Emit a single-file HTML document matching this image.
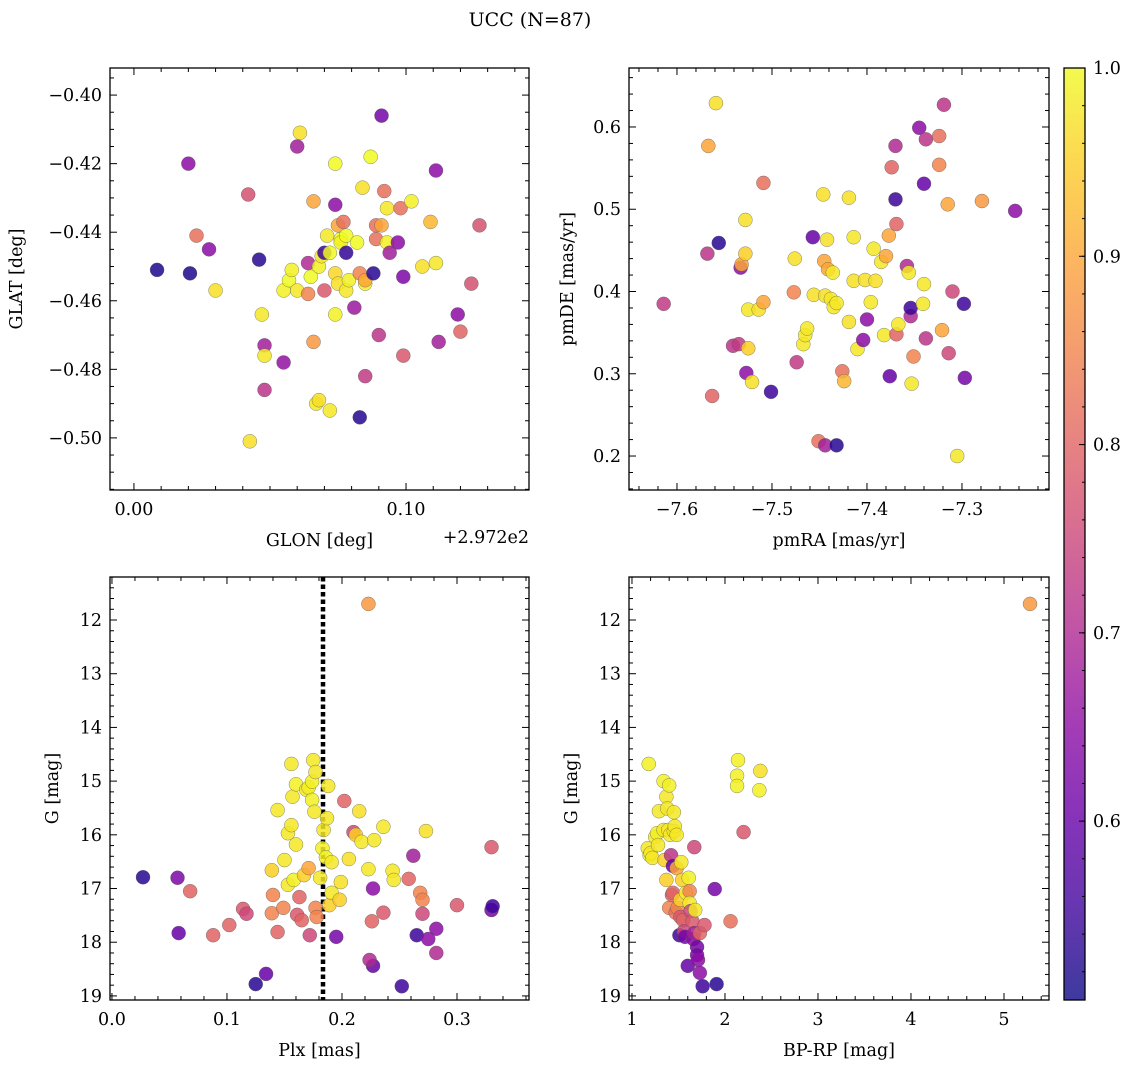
<!DOCTYPE html>
<html><head><meta charset="utf-8"><style>
body{margin:0;background:#fff;}
svg text{font-family:"DejaVu Serif","Liberation Serif",serif;fill:#000;}
</style></head><body>
<svg id="fig" width="1136" height="1067" xmlns="http://www.w3.org/2000/svg">
<defs>
<linearGradient id="plasma" x1="0" y1="1" x2="0" y2="0">
<stop offset="0" stop-color="#0d0887"/><stop offset="0.1" stop-color="#41049d"/><stop offset="0.2" stop-color="#6a00a8"/><stop offset="0.3" stop-color="#8f0da4"/><stop offset="0.4" stop-color="#b12a90"/><stop offset="0.5" stop-color="#cc4778"/><stop offset="0.6" stop-color="#e16462"/><stop offset="0.7" stop-color="#f2844b"/><stop offset="0.8" stop-color="#fca636"/><stop offset="0.9" stop-color="#fcce25"/><stop offset="1" stop-color="#f0f921"/>
</linearGradient>
</defs>
<text x="530" y="26" font-size="19" text-anchor="middle">UCC (N=87)</text>
</svg>
<script>
// Panel 1: GLON offset (deg from 297.2), GLAT, prob
const p1Glon=[0.0085,0.020,0.0206,0.023,0.0276,0.030,0.042,0.0426,0.046,0.047,0.048,0.048,0.048,0.055,0.055,0.057,0.058,0.060,0.060,0.061,0.064,0.064,0.065,0.066,0.066,0.067,0.068,0.068,0.069,0.070,0.070,0.071,0.072,0.072,0.074,0.074,0.074,0.074,0.075,0.075,0.076,0.076,0.077,0.078,0.078,0.078,0.079,0.081,0.082,0.083,0.083,0.084,0.085,0.085,0.085,0.087,0.088,0.089,0.089,0.090,0.091,0.091,0.092,0.093,0.093,0.094,0.097,0.098,0.099,0.099,0.102,0.106,0.109,0.111,0.111,0.112,0.119,0.120,0.124,0.127];
const p1Glat=[-0.451,-0.420,-0.452,-0.441,-0.445,-0.457,-0.429,-0.501,-0.448,-0.464,-0.473,-0.476,-0.486,-0.478,-0.457,-0.454,-0.451,-0.415,-0.457,-0.411,-0.449,-0.458,-0.453,-0.431,-0.472,-0.490,-0.489,-0.450,-0.447,-0.446,-0.457,-0.441,-0.492,-0.446,-0.420,-0.432,-0.452,-0.464,-0.455,-0.438,-0.442,-0.443,-0.437,-0.446,-0.457,-0.441,-0.454,-0.462,-0.443,-0.494,-0.452,-0.427,-0.455,-0.454,-0.482,-0.418,-0.452,-0.438,-0.442,-0.470,-0.438,-0.406,-0.428,-0.433,-0.443,-0.446,-0.443,-0.433,-0.453,-0.476,-0.431,-0.450,-0.437,-0.449,-0.422,-0.472,-0.464,-0.469,-0.455,-0.438];
const p1Prob=[0.52,0.65,0.52,0.82,0.65,0.97,0.77,0.97,0.53,0.98,0.68,0.98,0.72,0.66,0.99,1.0,0.99,0.68,0.98,0.97,0.7,0.85,1.0,0.9,0.88,0.98,0.97,0.99,0.98,0.55,0.78,0.98,0.98,1.0,1.0,0.65,0.96,0.99,0.97,0.9,1.0,0.99,0.82,0.54,0.98,1.0,0.99,0.67,1.0,0.53,0.85,0.97,0.99,0.9,0.73,1.0,0.53,0.82,0.82,0.72,0.9,0.62,0.82,0.98,0.99,0.68,0.65,0.82,0.63,0.78,0.99,0.97,0.92,0.98,0.65,0.68,0.65,0.8,0.77,0.77];
// Panel 2: pmRA, pmDE, prob
const p2Pmra=[-7.614,-7.559,-7.567,-7.556,-7.568,-7.563,-7.541,-7.535,-7.533,-7.532,-7.528,-7.528,-7.525,-7.527,-7.525,-7.521,-7.514,-7.509,-7.509,-7.501,-7.477,-7.476,-7.474,-7.467,-7.465,-7.463,-7.457,-7.456,-7.451,-7.446,-7.445,-7.444,-7.444,-7.442,-7.441,-7.438,-7.436,-7.435,-7.432,-7.432,-7.426,-7.424,-7.419,-7.419,-7.414,-7.414,-7.410,-7.404,-7.400,-7.402,-7.396,-7.393,-7.391,-7.385,-7.382,-7.380,-7.377,-7.376,-7.374,-7.370,-7.370,-7.369,-7.369,-7.367,-7.358,-7.356,-7.354,-7.354,-7.353,-7.351,-7.345,-7.341,-7.340,-7.340,-7.338,-7.338,-7.324,-7.324,-7.321,-7.319,-7.315,-7.314,-7.310,-7.305,-7.298,-7.297,-7.279,-7.244];
const p2Pmde=[0.385,0.629,0.577,0.459,0.446,0.273,0.334,0.336,0.429,0.433,0.446,0.487,0.378,0.301,0.331,0.290,0.378,0.387,0.532,0.278,0.399,0.440,0.314,0.336,0.347,0.355,0.466,0.396,0.218,0.518,0.437,0.395,0.213,0.463,0.427,0.391,0.423,0.381,0.386,0.213,0.303,0.291,0.363,0.514,0.466,0.413,0.330,0.341,0.366,0.414,0.387,0.452,0.413,0.436,0.347,0.443,0.468,0.297,0.551,0.577,0.512,0.482,0.348,0.360,0.431,0.423,0.370,0.380,0.288,0.321,0.599,0.385,0.531,0.409,0.585,0.343,0.589,0.554,0.353,0.627,0.506,0.325,0.400,0.200,0.385,0.295,0.510,0.498];
const p2Prob=[0.73,0.97,0.9,0.53,0.72,0.8,0.72,0.73,0.65,0.9,0.95,0.97,0.98,0.65,0.95,0.97,0.97,0.9,0.82,0.55,0.85,0.97,0.73,0.98,0.98,0.98,0.6,0.97,0.82,0.97,0.9,0.97,0.68,0.97,0.9,0.98,0.98,0.98,0.98,0.53,0.82,0.92,0.97,0.97,0.98,0.97,0.98,0.65,0.65,0.97,0.98,0.98,0.97,0.98,0.98,0.9,0.9,0.6,0.8,0.7,0.55,0.8,0.8,0.98,0.7,0.98,0.7,0.55,0.98,0.85,0.65,0.98,0.6,0.98,0.72,0.72,0.82,0.85,0.9,0.72,0.9,0.75,0.75,0.98,0.55,0.62,0.88,0.65];
// Panel 3: Plx, G, prob
const p3Plx=[0.027,0.057,0.058,0.068,0.088,0.102,0.114,0.117,0.125,0.134,0.139,0.140,0.139,0.144,0.144,0.149,0.150,0.153,0.153,0.156,0.156,0.157,0.158,0.160,0.160,0.161,0.163,0.165,0.167,0.169,0.171,0.171,0.172,0.174,0.174,0.175,0.176,0.177,0.177,0.178,0.181,0.183,0.184,0.186,0.187,0.188,0.189,0.191,0.191,0.195,0.198,0.199,0.202,0.206,0.210,0.212,0.215,0.217,0.223,0.223,0.226,0.227,0.227,0.228,0.224,0.236,0.236,0.244,0.245,0.252,0.258,0.262,0.265,0.268,0.270,0.270,0.273,0.275,0.282,0.282,0.300,0.330,0.330,0.331];
const p3G=[16.79,16.80,17.83,17.05,17.87,17.68,17.38,17.47,18.78,18.59,16.66,17.12,17.46,15.54,17.81,17.36,16.47,15.97,16.93,15.82,14.68,15.29,16.84,15.06,16.18,17.49,17.16,17.59,16.75,15.16,15.12,16.62,17.87,15.01,15.35,14.61,15.57,17.36,14.83,17.53,16.80,16.25,15.91,16.42,15.69,15.09,17.31,16.51,17.08,17.90,17.21,16.88,15.37,16.45,15.95,16.00,15.56,16.13,11.70,16.64,17.61,17.00,18.44,16.10,18.33,17.45,15.85,16.67,16.84,18.82,16.82,16.39,17.87,17.08,17.47,17.21,15.93,17.94,17.75,18.20,17.31,16.23,17.40,17.33];
const p3Prob=[0.53,0.63,0.6,0.8,0.8,0.8,0.78,0.75,0.53,0.6,0.95,0.85,0.85,0.98,0.8,0.85,0.98,0.98,0.98,0.98,0.98,0.98,0.99,0.99,0.98,0.78,0.8,0.8,0.95,0.98,0.99,0.9,0.75,0.99,0.99,0.98,0.98,0.85,0.98,0.85,0.98,0.99,0.98,0.99,0.98,0.98,0.95,0.98,0.98,0.62,0.95,0.97,0.8,0.97,0.75,0.95,0.97,0.98,0.88,0.98,0.8,0.65,0.6,0.98,0.7,0.78,0.98,0.98,0.98,0.55,0.8,0.68,0.55,0.85,0.75,0.85,0.97,0.65,0.65,0.7,0.78,0.78,0.62,0.55];
const plxLine=0.1835;
// Panel 4: BP-RP, G, prob
const p4Bprp=[5.28,1.18,1.17,1.19,1.20,1.22,1.25,1.27,1.28,1.29,1.34,1.34,1.35,1.37,1.37,1.38,1.40,1.39,1.40,1.42,1.41,1.43,1.44,1.44,1.45,1.45,1.46,1.47,1.48,1.49,1.48,1.51,1.52,1.52,1.53,1.54,1.55,1.56,1.57,1.58,1.60,1.61,1.62,1.62,1.63,1.65,1.66,1.67,1.67,1.68,1.70,1.70,1.71,1.73,1.73,1.76,1.78,1.89,1.91,2.06,2.14,2.13,2.13,2.20,2.38,2.37];
const p4G=[11.70,14.68,16.25,16.38,16.34,16.43,16.04,15.97,16.19,15.56,15.00,15.91,16.47,16.84,15.29,15.51,15.08,15.91,17.36,16.38,16.00,17.12,16.58,17.08,15.58,15.93,15.84,17.45,16.00,17.36,16.62,17.87,17.53,17.21,16.51,16.84,17.59,17.79,17.90,17.08,18.44,16.80,17.05,17.27,17.42,17.61,17.94,17.83,16.23,17.40,18.09,18.24,18.33,17.83,18.57,18.82,17.68,17.01,18.78,17.61,14.61,14.90,15.09,15.95,14.81,15.17];
const p4Prob=[0.88,0.99,0.98,0.99,0.98,0.98,0.98,0.99,0.98,0.98,0.99,0.98,0.95,0.95,0.98,0.98,0.99,0.98,0.85,0.72,0.98,0.8,0.6,0.8,0.98,0.98,0.98,0.82,0.98,0.85,0.9,0.55,0.78,0.95,0.98,0.95,0.8,0.75,0.62,0.98,0.6,0.99,0.85,0.98,0.75,0.78,0.65,0.68,0.75,0.98,0.62,0.62,0.65,0.8,0.65,0.55,0.78,0.62,0.53,0.82,0.99,0.99,0.99,0.78,0.97,0.99];
const cbTicks=[0.6,0.7,0.8,0.9,1.0];
const VMIN=0.505,VMAX=1.0;

const NS='http://www.w3.org/2000/svg';
const svg=document.getElementById('fig');
const FS=17.5;
const stops=[[13,8,135],[65,4,157],[106,0,168],[143,13,164],[177,42,144],[204,71,120],[225,100,98],[242,132,75],[252,166,54],[252,206,37],[240,249,33]];
function plasma(v){let t=Math.max(0,Math.min(1,(v-VMIN)/(VMAX-VMIN)))*10;let i=Math.min(9,Math.floor(t)),f=t-i;const a=stops[i],b=stops[i+1];return 'rgb('+a.map((c,k)=>Math.round(c+(b[k]-c)*f)).join(',')+')';}
function mk(tag,attrs,parent){const e=document.createElementNS(NS,tag);for(const k in attrs)e.setAttribute(k,attrs[k]);(parent||svg).appendChild(e);return e;}
function fmt(v,d){let s=v.toFixed(d);if(v<0)s='\u2212'+s.slice(1);return s;}

function panel(o){
  const g=mk('g',{});
  
  
  const sx=v=>o.x0+(v-o.xmin)/(o.xmax-o.xmin)*(o.x1-o.x0);
  const sy=o.inv?(v=>o.y0+(v-o.ymin)/(o.ymax-o.ymin)*(o.y1-o.y0)):(v=>o.y1-(v-o.ymin)/(o.ymax-o.ymin)*(o.y1-o.y0));
  if(o.vline!==undefined){const l=mk('line',{x1:sx(o.vline),x2:sx(o.vline),y1:o.y0,y2:o.y1,stroke:'#000','stroke-width':4.5,'stroke-dasharray':'4.5,3'},g);
    
    }
  for(let i=0;i<o.xs.length;i++){
    const c=mk('circle',{cx:sx(o.xs[i]),cy:sy(o.ys[i]),r:7,fill:plasma(o.ps[i]),'fill-opacity':0.85,stroke:'#555','stroke-width':0.5,'stroke-opacity':0.7},g);
    
    
  }
  const f=mk('rect',{x:o.x0,y:o.y0,width:o.x1-o.x0,height:o.y1-o.y0,fill:'none',stroke:'#000','stroke-width':1.3},g);
  
  
  const eps=1e-9;
  for(let v=Math.ceil(o.xmin/o.xminor-eps)*o.xminor;v<=o.xmax+eps;v+=o.xminor){const x=sx(v);
    const maj=Math.abs(v/o.xmaj-Math.round(v/o.xmaj))<1e-6;const L=maj?7:4;
    mk('line',{x1:x,x2:x,y1:o.y1,y2:o.y1-L,stroke:'#000','stroke-width':1},g);mk('line',{x1:x,x2:x,y1:o.y0,y2:o.y0+L,stroke:'#000','stroke-width':1},g);
    if(maj&&o.xlab){const t=mk('text',{x:x,y:o.y1+25,'font-size':FS,'text-anchor':'middle'},g);t.textContent=fmt(Math.round(v/o.xmaj)*o.xmaj,o.xd);
      
      }}
  for(let v=Math.ceil(o.ymin/o.yminor-eps)*o.yminor;v<=o.ymax+eps;v+=o.yminor){const y=sy(v);
    const maj=Math.abs(v/o.ymaj-Math.round(v/o.ymaj))<1e-6;const L=maj?7:4;
    mk('line',{x1:o.x0,x2:o.x0+L,y1:y,y2:y,stroke:'#000','stroke-width':1},g);mk('line',{x1:o.x1,x2:o.x1-L,y1:y,y2:y,stroke:'#000','stroke-width':1},g);
    if(maj){const t=mk('text',{x:o.x0-8,y:y+6,'font-size':FS,'text-anchor':'end'},g);t.textContent=fmt(Math.round(v/o.ymaj)*o.ymaj,o.yd);
      
      }}
  const xt=mk('text',{x:(o.x0+o.x1)/2,y:o.y1+56,'font-size':FS,'text-anchor':'middle'},g);xt.textContent=o.xt;
  
  
  const yc=(o.y0+o.y1)/2,yx=o.x0-o.ylo;
  const yt=mk('text',{x:yx,y:yc,'font-size':FS,'text-anchor':'middle',transform:'rotate(-90 '+yx+' '+yc+')'},g);yt.textContent=o.yt;
  
  
}
panel({name:'glon-glat-panel',x0:110,x1:529,y0:68,y1:490,xmin:-0.0088,xmax:0.1452,ymin:-0.5152,ymax:-0.3921,xmaj:0.1,xminor:0.01,xd:2,ymaj:0.02,yminor:0.005,yd:2,xlab:true,xs:p1Glon,ys:p1Glat,ps:p1Prob,xt:'GLON [deg]',yt:'GLAT [deg]',ylo:88});
const off=mk('text',{x:529,y:543,'font-size':FS,'text-anchor':'end'});off.textContent='+2.972e2';


panel({name:'pm-panel',x0:629,x1:1049,y0:68,y1:490,xmin:-7.6505,xmax:-7.2084,ymin:0.1587,ymax:0.6717,xmaj:0.1,xminor:0.02,xd:1,ymaj:0.1,yminor:0.02,yd:1,xlab:true,xs:p2Pmra,ys:p2Pmde,ps:p2Prob,xt:'pmRA [mas/yr]',yt:'pmDE [mas/yr]',ylo:56});
panel({name:'plx-g-panel',x0:110,x1:529,y0:577,y1:1000,xmin:-0.0017,xmax:0.3626,ymin:11.199,ymax:19.076,inv:true,xmaj:0.1,xminor:0.02,xd:1,ymaj:1,yminor:0.2,yd:0,xlab:true,xs:p3Plx,ys:p3G,ps:p3Prob,vline:plxLine,xt:'Plx [mas]',yt:'G [mag]',ylo:52});
panel({name:'cmd-panel',x0:629,x1:1049,y0:577,y1:1000,xmin:0.968,xmax:5.484,ymin:11.199,ymax:19.076,inv:true,xmaj:1,xminor:0.2,xd:0,ymaj:1,yminor:0.2,yd:0,xlab:true,xs:p4Bprp,ys:p4G,ps:p4Prob,xt:'BP-RP [mag]',yt:'G [mag]',ylo:52});
// colorbar
const cb=mk('g',{});


const CX0=1064,CX1=1085,CY0=68,CY1=1000;
mk('rect',{x:CX0,y:CY0,width:CX1-CX0,height:CY1-CY0,fill:'url(#plasma)','fill-opacity':0.8},cb);
mk('rect',{x:CX0,y:CY0,width:CX1-CX0,height:CY1-CY0,fill:'none',stroke:'#000','stroke-width':1.3},cb);
const cy=v=>CY1-(v-VMIN)/(VMAX-VMIN)*(CY1-CY0);
for(let k=Math.ceil(VMIN/0.02);k*0.02<=VMAX+1e-9;k++){const y=cy(k*0.02);mk('line',{x1:CX1,x2:CX1-3,y1:y,y2:y,stroke:'#000','stroke-width':1},cb);}
cbTicks.forEach(v=>{const y=cy(v);mk('line',{x1:CX1,x2:CX1-6,y1:y,y2:y,stroke:'#000','stroke-width':1},cb);
  const t=mk('text',{x:CX1+8,y:y+6,'font-size':FS},cb);t.textContent=v.toFixed(1);
  
  });
</script>
</body></html>
